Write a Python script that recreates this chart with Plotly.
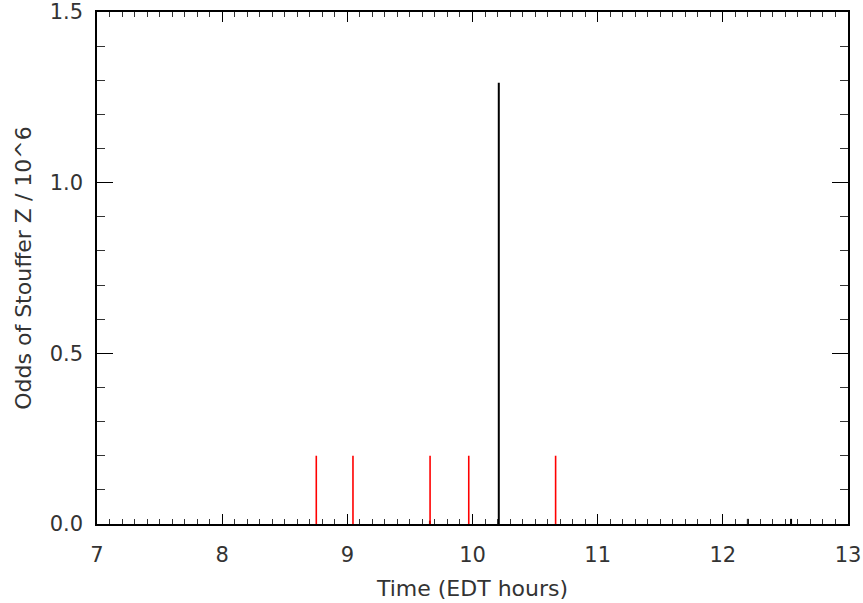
import plotly.graph_objects as go

# Data
black_times = [9.66, 10.21, 12.20, 12.545]
black_odds = [0.010, 1.293, 0.015, 0.015]
red_times = [8.752, 9.045, 9.661, 9.970, 10.664]
red_odds = [0.2, 0.2, 0.2, 0.2, 0.2]
x_ticks = [7, 8, 9, 10, 11, 12, 13]
x_tick_labels = ["7", "8", "9", "10", "11", "12", "13"]
y_ticks = [0.0, 0.5, 1.0, 1.5]
y_tick_labels = ["0.0", "0.5", "1.0", "1.5"]


def sticks(xs, ys):
    px, py = [], []
    for x, y in zip(xs, ys):
        px += [x, x, None]
        py += [0, y, None]
    return px, py


fig = go.Figure()
bx, by = sticks(black_times, black_odds)
fig.add_trace(go.Scatter(x=bx, y=by, mode="lines",
                         line=dict(color="black", width=2), showlegend=False))
rx, ry = sticks(red_times, red_odds)
fig.add_trace(go.Scatter(x=rx, y=ry, mode="lines",
                         line=dict(color="#ff0000", width=1.6), showlegend=False))

font = dict(family="DejaVu Sans", size=21, color="#333333")
tfont = dict(family="DejaVu Sans", size=22, color="#333333")

fig.update_layout(
    width=863, height=603,
    margin=dict(l=97, r=15, t=12, b=79),
    plot_bgcolor="white", paper_bgcolor="white",
    font=font,
    xaxis=dict(
        range=[7, 13], tickvals=x_ticks, ticktext=x_tick_labels,
        ticks="inside", ticklen=10, tickwidth=1.2, tickcolor="black",
        minor=dict(dtick=0.1, tick0=7, ticks="inside", ticklen=5,
                   tickwidth=1, tickcolor="#333333", showgrid=False),
        showline=True, linecolor="black", linewidth=1.5, mirror="allticks",
        showgrid=False, zeroline=False, ticklabelstandoff=11,
        automargin=False, tickfont=font,
        title=dict(text="Time (EDT hours)", font=tfont, standoff=15),
    ),
    yaxis=dict(
        range=[0, 1.5], tickvals=y_ticks, ticktext=y_tick_labels,
        ticks="inside", ticklen=16, tickwidth=1.2, tickcolor="black",
        minor=dict(dtick=0.1, tick0=0, ticks="inside", ticklen=8,
                   tickwidth=1, tickcolor="#333333", showgrid=False),
        showline=True, linecolor="black", linewidth=1.5, mirror="allticks",
        showgrid=False, zeroline=False, ticklabelstandoff=8,
        automargin=False, tickfont=font,
        title=dict(text="Odds of Stouffer Z / 10^6", font=tfont, standoff=12),
    ),
)

fig.write_html("out.html",
               config={"displayModeBar": False},
               post_script="document.body.style.margin='0';")
